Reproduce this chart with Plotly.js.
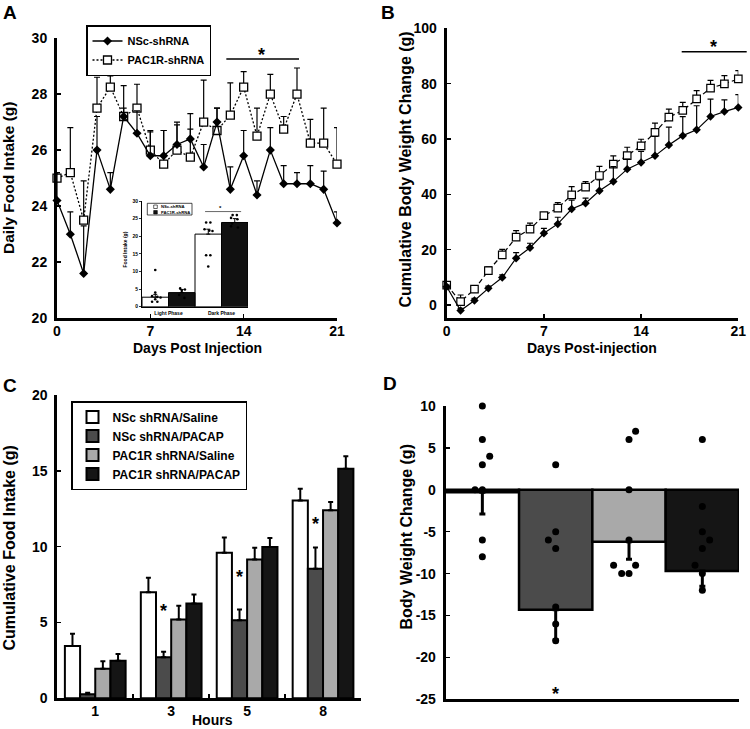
<!DOCTYPE html>
<html>
<head>
<meta charset="utf-8">
<script src="https://cdn.plot.ly/plotly-3.0.1.min.js"></script>
<style>
html, body { margin:0; padding:0; background:#fff; }
#chart { width:750px; height:729px; }
</style>
</head>
<body>
<div id="chart"></div>
<script>
// ---------------- Panel A: daily food intake ----------------
const daysA = [0,1,2,3,4,5,6,7,8,9,10,11,12,13,14,15,16,17,18,19,20,21];
const aNScMean = [24.2,23.0,21.6,26.0,24.6,27.2,26.6,25.8,25.8,26.2,26.4,25.4,27.0,24.6,25.8,24.4,26.0,24.8,24.8,24.8,24.6,23.4];
const aNScErr  = [1.0,0.8,1.7,1.2,0.6,0.3,0.8,0.9,0.9,0.8,0.9,0.8,0.5,0.8,0.9,0.5,0.8,0.65,0.4,0.65,0.65,0.4];
const aPacMean = [25.0,25.2,23.5,27.5,28.25,27.2,27.5,26.0,25.5,26.0,25.75,27.0,26.7,27.25,28.25,26.5,28.0,26.75,28.0,26.25,26.25,25.5];
const aPacErr  = [0.2,1.6,1.4,1.1,0.4,1.1,0.85,0.65,1.2,0.9,1.0,1.5,0.8,1.15,0.55,1.0,0.7,0.45,0.93,0.85,1.25,1.3];
const aTicksX = [0,7,14,21];
const aTicksY = [20,22,24,26,28,30];

// ---------------- Inset of A: light / dark phase intake ----------------
const insetCats = ['Light Phase','Dark Phase'];
const insetNScMean = [2.7, 20.6];
const insetNScErr  = [0.8, 1.4];
const insetPacMean = [4.0, 23.9];
const insetPacErr  = [0.9, 1.1];
const insetLightNSc = [10.4,4.0,3.0,2.8,2.6,2.1,1.4,1.4];
const insetLightPac = [5.2,4.9,4.5,3.3,2.5];
const insetDarkNSc  = [23.9,23.9,22.0,21.6,21.5,14.6,14.6,11.4];
const insetDarkPac  = [26.0,26.0,25.2,24.8,23.6,22.8,22.5];
const insetTicksY = [0,5,10,15,20,25,30];

// ---------------- Panel B: cumulative body weight change ----------------
const daysB = [0,1,2,3,4,5,6,7,8,9,10,11,12,13,14,15,16,17,18,19,20,21];
const bNScMean = [6.6,-2.0,1.6,6.0,9.9,16.9,20.7,25.9,29.3,34.7,36.8,41.3,44.6,49.1,51.5,53.9,57.8,61.2,63.3,68.1,69.9,71.4];
const bNScErr  = [0.6,0.8,0.8,0.8,1.0,2.0,1.6,1.8,2.4,3.2,1.8,3.9,5.4,3.6,4.0,7.0,6.5,6.9,8.7,6.3,4.2,4.6];
const bPacMean = [7.2,1.2,5.7,12.4,18.1,24.5,27.4,32.3,35.0,39.8,42.6,46.8,50.9,54.0,57.5,62.4,67.9,70.3,74.5,78.4,79.9,81.7];
const bPacErr  = [0.5,2.4,1.2,1.4,2.0,2.4,2.2,1.0,2.0,3.0,2.0,3.3,3.0,3.0,2.4,3.3,2.9,2.9,3.0,2.8,3.0,3.0];
const bTicksX = [0,7,14,21];
const bTicksY = [0,20,40,60,80,100];

// ---------------- Panel C: cumulative food intake after injection ----------------
const cHours = ['1','3','5','8'];
const cSeriesNames = ['NSc shRNA/Saline','NSc shRNA/PACAP','PAC1R shRNA/Saline','PAC1R shRNA/PACAP'];
const cNScSaline = [3.45, 7.0, 9.6, 13.05];
const cNScSalineErr = [0.8, 0.95, 1.0, 0.77];
const cNScPacap = [0.26, 2.7, 5.15, 8.55];
const cNScPacapErr = [0.1, 0.37, 0.7, 1.4];
const cPacSaline = [1.95, 5.2, 9.16, 12.4];
const cPacSalineErr = [0.5, 0.9, 0.77, 0.55];
const cPacPacap = [2.47, 6.25, 9.97, 15.13];
const cPacPacapErr = [0.45, 0.6, 0.6, 0.83];
const cTicksY = [0,5,10,15,20];

// ---------------- Panel D: body weight change ----------------
const dGroups = ['NSc shRNA/Saline','NSc shRNA/PACAP','PAC1R shRNA/Saline','PAC1R shRNA/PACAP'];
const dMeans = [-0.3, -14.3, -6.2, -9.7];
const dErr = [2.6, 3.6, 2.1, 1.8];
const dDotsNScSaline = [10,6,4,3,0,0,-6,-8];
const dDotsNScPacap  = [3,-5,-6,-7,-14,-16,-18];
const dDotsPacSaline = [7,6,0,-6,-9,-9,-10,-10];
const dDotsPacPacap  = [6,-2,-5,-6,-7,-9,-10,-12];
const dTicksY = [-25,-20,-15,-10,-5,0,5,10];

// ---------------- styling (not data) ----------------
const FONT = 'Arial, "Liberation Sans", Helvetica, sans-serif';
const bold = (size) => ({family: FONT, size: size, color: '#000', weight: 'bold'});
const W = 750, H = 729;
const px = v => v / W;
const py = v => 1 - v / H;
const colC = ['#ffffff', '#4b4b4b', '#a9a9a9', '#151515'];

// jitter for individual-animal dots (display offsets)
const jitInsetLightNSc = [0,0,-0.06,0.04,0.1,0,-0.06,0.04];
const jitInsetLightPac = [-0.03,0.06,0,-0.05,0.05];
const jitInsetDarkNSc  = [-0.04,0.04,-0.07,0.02,0.08,-0.04,0.04,0];
const jitInsetDarkPac  = [-0.04,0.04,-0.07,0.05,-0.05,-0.07,0.06];
const jitD = [
  [0,0,0.1,0,-0.1,0,0,0],
  [0,0,-0.1,0,0,0,0],
  [0.09,0,0,0,-0.21,0.09,-0.1,0],
  [0,0,0,0.1,0,-0.1,0,0]
];

function axis(extra) {
  return Object.assign({
    showline: true, linecolor: '#000', linewidth: 3,
    ticks: 'inside', ticklen: 4, tickwidth: 1.5, tickcolor: '#000',
    showgrid: false, zeroline: false, tickfont: bold(14),
    ticklabelstandoff: 4, fixedrange: true
  }, extra);
}
const zeros = n => new Array(n).fill(0);
const upErr = (arr, th, w) => ({type:'data', array: arr, arrayminus: zeros(arr.length), symmetric: false, color:'#000', thickness: th, width: w});

const traces = [];

// Panel A
traces.push({
  type:'scatter', mode:'lines+markers', name:'PAC1R-shRNA', x: daysA, y: aPacMean,
  xaxis:'x', yaxis:'y', legend:'legend', legendrank: 2, cliponaxis:false,
  line:{color:'#000', width:1.3, dash:'2px,2px'},
  marker:{symbol:'square', size:8, color:'#fff', line:{color:'#000', width:1.3}},
  error_y: upErr(aPacErr, 1.2, 3)
});
traces.push({
  type:'scatter', mode:'lines+markers', name:'NSc-shRNA', x: daysA, y: aNScMean,
  xaxis:'x', yaxis:'y', legend:'legend', legendrank: 1, cliponaxis:false,
  line:{color:'#000', width:1.3},
  marker:{symbol:'diamond', size:7, color:'#000'},
  error_y: upErr(aNScErr, 1.2, 3)
});

// Inset
traces.push({
  type:'bar', x:[0,1], y: insetNScMean, width:0.5, offset:-0.5, xaxis:'x5', yaxis:'y5',
  marker:{color:'#fff', line:{color:'#000', width:1}}, showlegend:false,
  error_y: upErr(insetNScErr, 1, 2)
});
traces.push({
  type:'bar', x:[0,1], y: insetPacMean, width:0.5, offset:0, xaxis:'x5', yaxis:'y5',
  marker:{color:'#111', line:{color:'#000', width:1}}, showlegend:false,
  error_y: upErr(insetPacErr, 1, 2)
});
const insetDotSets = [
  [insetLightNSc, jitInsetLightNSc, -0.25],
  [insetLightPac, jitInsetLightPac, 0.25],
  [insetDarkNSc, jitInsetDarkNSc, 0.75],
  [insetDarkPac, jitInsetDarkPac, 1.25]
];
insetDotSets.forEach(([vals, jit, c]) => {
  traces.push({
    type:'scatter', mode:'markers', x: jit.map(j => c + j), y: vals,
    xaxis:'x5', yaxis:'y5', showlegend:false, cliponaxis:false,
    marker:{color:'#000', size:2.6}
  });
});

// Panel B
traces.push({
  type:'scatter', mode:'lines+markers', name:'PAC1R-shRNA', x: daysB, y: bPacMean,
  xaxis:'x2', yaxis:'y2', showlegend:false, cliponaxis:false,
  line:{color:'#000', width:1.2, dash:'5px,3px'},
  marker:{symbol:'square', size:7.5, color:'#fff', line:{color:'#000', width:1.2}},
  error_y: upErr(bPacErr, 1.2, 3)
});
traces.push({
  type:'scatter', mode:'lines+markers', name:'NSc-shRNA', x: daysB, y: bNScMean,
  xaxis:'x2', yaxis:'y2', showlegend:false, cliponaxis:false,
  line:{color:'#000', width:1.2},
  marker:{symbol:'diamond', size:6.5, color:'#000'},
  error_y: upErr(bNScErr, 1.2, 3)
});

// Panel C
const cVals = [cNScSaline, cNScPacap, cPacSaline, cPacPacap];
const cErrs = [cNScSalineErr, cNScPacapErr, cPacSalineErr, cPacPacapErr];
cVals.forEach((vals, i) => {
  traces.push({
    type:'bar', name: cSeriesNames[i], x: cHours, y: vals,
    width: 0.2, offset: -0.4 + 0.2 * i, xaxis:'x3', yaxis:'y3', legend:'legend2',
    marker:{color: colC[i], line:{color:'#000', width:2}},
    error_y: upErr(cErrs[i], 2, 2.5)
  });
});

// Panel D
traces.push({
  type:'bar', x: dGroups.map((_, i) => i), y: dMeans, width:1, offset:-0.5,
  xaxis:'x4', yaxis:'y4', showlegend:false, text: dGroups, hoverinfo:'text+y', textposition:'none',
  marker:{color: colC, line:{color:'#000', width:2.5}},
  error_y:{type:'data', symmetric:false, array: zeros(4), arrayminus: dErr, color:'#000', thickness:3, width:3}
});
[dDotsNScSaline, dDotsNScPacap, dDotsPacSaline, dDotsPacPacap].forEach((vals, i) => {
  traces.push({
    type:'scatter', mode:'markers', x: jitD[i].map(j => i + j), y: vals,
    xaxis:'x4', yaxis:'y4', showlegend:false, cliponaxis:false,
    marker:{color:'#000', size:7}
  });
});

// ---------------- annotations & shapes ----------------
function star(xref, yref, x, y, size) {
  return {xref, yref, x, y, text:'*', showarrow:false, font:bold(size || 18), xanchor:'center', yanchor:'middle', yshift: -(size || 18) * 0.22};
}
function ytitle(text, x, y, size) {
  return {xref:'paper', yref:'paper', x:px(x), y:py(y), text, textangle:-90, showarrow:false, font:bold(size), xanchor:'center', yanchor:'middle'};
}
function xtitle(text, x, y, size) {
  return {xref:'paper', yref:'paper', x:px(x), y:py(y), text, showarrow:false, font:bold(size), xanchor:'center', yanchor:'middle'};
}
function letter(text, x, y) {
  return {xref:'paper', yref:'paper', x:px(x), y:py(y), text, showarrow:false, font:bold(19), xanchor:'center', yanchor:'middle'};
}

const annotations = [
  letter('A', 10, 13), letter('B', 388, 12), letter('C', 10, 385), letter('D', 390, 383),
  ytitle('Daily Food Intake (g)', 9, 178, 15.5),
  xtitle('Days Post Injection', 197, 348, 14),
  ytitle('Cumulative Body Weight Change (g)', 405.5, 170, 16),
  xtitle('Days Post-injection', 592, 348, 14),
  ytitle('Cumulative Food Intake (g)', 8.5, 548, 16),
  xtitle('Hours', 213, 719.5, 14),
  ytitle('Body Weight Change (g)', 405.5, 537, 16),
  ytitle('Food Intake (g)', 124.5, 250, 5),
  // significance stars
  star('x', 'y', 15.35, 29.52, 18),
  star('paper', 'paper', px(713), py(43.3), 18),
  star('x3', 'y3', 0.9, 6.03, 18),
  star('x3', 'y3', 1.9, 8.29, 18),
  star('x3', 'y3', 2.9, 11.73, 18),
  star('x4', 'y4', 1, -23.9, 18),
  star('x5', 'y5', 0.99, 28.3, 6),
  // inset legend text
  {xref:'paper', yref:'paper', x:px(159), y:py(206.7), text:'NSc-shRNA', showarrow:false, font:bold(4.2), xanchor:'left', yanchor:'middle'},
  {xref:'paper', yref:'paper', x:px(159), y:py(212.2), text:'PAC1R-shRNA', showarrow:false, font:bold(4.2), xanchor:'left', yanchor:'middle'}
];

const shapes = [
  {type:'line', xref:'x', yref:'y', x0:12.7, x1:18.15, y0:29.25, y1:29.25, line:{color:'#000', width:1.5}},
  {type:'line', xref:'paper', yref:'paper', x0:px(681.7), x1:px(746.7), y0:py(51.7), y1:py(51.7), line:{color:'#000', width:1.5}},
  {type:'line', xref:'x5', yref:'y5', x0:0.69, x1:1.37, y0:27.0, y1:27.0, line:{color:'#000', width:0.6}},
  // inset legend box and swatches
  {type:'rect', xref:'paper', yref:'paper', x0:px(147.3), x1:px(192), y0:py(215), y1:py(203.3), line:{color:'#000', width:0.7}, fillcolor:'#fff'},
  {type:'rect', xref:'paper', yref:'paper', x0:px(153.7), x1:px(157.3), y0:py(208.5), y1:py(205), line:{color:'#000', width:0.6}, fillcolor:'#fff'},
  {type:'rect', xref:'paper', yref:'paper', x0:px(153.7), x1:px(157.3), y0:py(214), y1:py(210.5), line:{color:'#000', width:0.6}, fillcolor:'#111'}
];

const layout = {
  width: W, height: H,
  margin: {l:0, r:0, t:0, b:0, pad:0},
  paper_bgcolor: '#fff', plot_bgcolor: 'rgba(0,0,0,0)',
  font: {family: FONT, color: '#000'},
  barmode: 'overlay',
  showlegend: true,
  hovermode: false,
  xaxis: axis({domain:[px(57), px(337)], range:[0,21], tickvals:aTicksX, ticklabelstandoff:-2, anchor:'y'}),
  yaxis: axis({domain:[py(318.3), py(38)], range:[20,30], tickvals:aTicksY, anchor:'x'}),
  xaxis2: axis({domain:[px(446.7), px(738.3)], range:[0,21], tickvals:bTicksX, ticklabelstandoff:-2, anchor:'y2'}),
  yaxis2: axis({domain:[py(317.7), py(28.3)], range:[-4.6,100], tickvals:bTicksY, anchor:'x2'}),
  xaxis3: axis({domain:[px(57.3), px(361)], type:'category', categoryorder:'array', categoryarray:cHours,
                range:[-0.5,3.5], tickson:'boundaries', ticklabelstandoff:-2, anchor:'y3'}),
  yaxis3: axis({domain:[py(698.3), py(395)], range:[0,20], tickvals:cTicksY, anchor:'x3'}),
  xaxis4: axis({domain:[px(445.7), px(739)], range:[-0.5,3.5], showticklabels:false, ticks:'', anchor:'y4'}),
  yaxis4: axis({domain:[py(699.3), py(406)], range:[-25,10], tickvals:dTicksY, ticktext:dTicksY.map(String), anchor:'x4'}),
  xaxis5: axis({domain:[px(142), px(248)], range:[-0.5,1.5], tickvals:[0,1], ticktext:insetCats, ticks:'',
                linewidth:1, tickfont:bold(5), ticklabelstandoff:1, anchor:'y5'}),
  yaxis5: axis({domain:[py(306.7), py(201)], range:[0,30], tickvals:insetTicksY, ticks:'outside', ticklen:2,
                tickwidth:0.8, linewidth:1, tickfont:bold(5), ticklabelstandoff:0, anchor:'x5'}),
  legend: {x:px(86), y:py(25), xanchor:'left', yanchor:'top', bgcolor:'#fff', bordercolor:'#000',
           borderwidth:1.5, font:bold(11), tracegroupgap:0, traceorder:'normal'},
  legend2: {x:px(71), y:py(401), xanchor:'left', yanchor:'top', bgcolor:'#fff', bordercolor:'#000',
            borderwidth:1.5, font:bold(12), tracegroupgap:0, traceorder:'normal'},
  annotations, shapes
};

Plotly.newPlot('chart', traces, layout, {displayModeBar:false, staticPlot:true});
</script>
</body>
</html>
